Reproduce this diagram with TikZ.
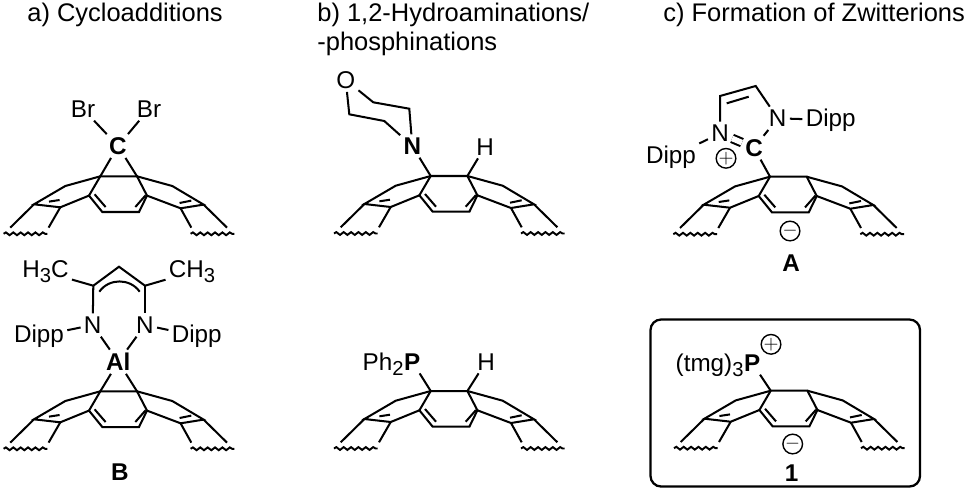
\documentclass[tikz,border=0pt]{standalone}
\usepackage{fontspec}
\setmainfont{Liberation Sans}
\usetikzlibrary{decorations.pathmorphing}
\newcommand{\lowered}[1]{\raisebox{-0.4ex}{\fontsize{11.5}{12}\selectfont #1}}
\tikzset{
  bond/.style={line width=1.15pt},
  atom/.style={inner sep=1.7pt,font=\fontsize{13.8}{16}\selectfont},
  heading/.style={inner sep=0pt,anchor=base west,font=\fontsize{14.5}{16}\selectfont},
  wavy/.style={line width=1.1pt,decorate,decoration={snake,amplitude=0.8pt,segment length=4.2pt}},
  charge/.style={circle,draw,line width=0.8pt,inner sep=0pt,minimum size=11pt,font=\fontsize{11}{11}\selectfont},
  scaffold/.pic={
    \coordinate (-tl) at (0,0);
    \coordinate (-tr) at (36.7,0);
    % central ring
    \draw[bond] (0,0) -- (36.7,0) -- (46.7,19.3) -- (38.7,35.7) -- (2,35.7) -- (-11.3,19.3) -- cycle;
    \draw[bond] (-5.7,18) -- (5.3,30.7);
    \draw[bond] (45.3,19) -- (35,30.7);
    % left wing
    \draw[bond] (0,0) -- (-35,9.7) -- (-66.3,28) -- (-40,31) -- (-11.3,19.3);
    \draw[bond] (-51.3,25.3) -- (-40.7,23.7);
    \draw[bond] (-66.3,28) -- (-90,51.3);
    \draw[bond] (-40,31) -- (-51.7,51.3);
    \draw[wavy] (-96.7,57.5) -- (-53,57.5);
    % right wing
    \draw[bond] (36.7,0) -- (72,9.7) -- (103.3,28.3) -- (80.3,32) -- (46.7,19.3);
    \draw[bond] (79.3,26.7) -- (91,24.3);
    \draw[bond] (80.3,32) -- (91,51.3);
    \draw[bond] (103.3,28.3) -- (126.7,51.3);
    \draw[wavy] (90.3,57.5) -- (134,57.5);
  }
}

\begin{document}
\begin{tikzpicture}[x=0.02cm,y=-0.02cm]
\useasboundingbox (0,0) rectangle (969,491);

% Headings
\node[heading] (heada) at (27,21) {a) Cycloadditions};
\node[heading] (headb) at (317,21) {b) 1,2-Hydroaminations/};
\node[heading] (headbb) at (317,50) {-phosphinations};
\node[heading] (headc) at (663,21) {c) Formation of Zwitterions};

% Dibromocarbene adduct
\pic (sa) at (100.3,176.3) {scaffold};
\node[atom] (bra) at (83,109) {Br};
\node[atom] (brb) at (149,109) {Br};
\node[atom] (ca) at (118,146) {\textbf{C}};
\draw[bond] (bra) -- (ca);
\draw[bond] (brb) -- (ca);
\draw[bond] (ca) -- (sa-tl);
\draw[bond] (ca) -- (sa-tr);

% Aluminium adduct
\pic (sb) at (100.3,391.3) {scaffold};
\node[atom] (hc) at (45.5,272) {H\lowered{3}C};
\node[atom] (ch) at (192,272) {CH\lowered{3}};
\coordinate (apex) at (119,266.7);
\coordinate (cl) at (93.3,285.7);
\coordinate (cr) at (145,285.7);
\node[atom] (nl) at (92.7,325) {N};
\node[atom] (nr) at (145,325) {N};
\node[atom] (dippa) at (39,336) {Dipp};
\node[atom] (dippb) at (196.7,336) {Dipp};
\node[atom] (al) at (118.3,361.7) {\textbf{Al}};
\node[atom] (lb) at (120,471.7) {\textbf{B}};
\draw[bond] (hc) -- (cl);
\draw[bond] (ch) -- (cr);
\draw[bond] (cl) -- (apex) -- (cr);
\draw[bond] (cl) -- (nl);
\draw[bond] (cr) -- (nr);
\draw[bond] (99.3,291.7) .. controls (109,278) and (130,278) .. (139.7,291.7);
\draw[bond] (dippa) -- (nl);
\draw[bond] (dippb) -- (nr);
\draw[bond] (nl) -- (al);
\draw[bond] (nr) -- (al);
\draw[bond] (al) -- (sb-tl);
\draw[bond] (al) -- (sb-tr);

% Morpholine adduct
\pic (sc) at (430.7,176) {scaffold};
\node[atom] (ox) at (345.7,80) {O};
\node[atom] (na) at (412.3,146) {\textbf{N}};
\node[atom] (ha) at (485,146.7) {H};
\coordinate (mc) at (373.3,102.3);
\coordinate (md) at (409.3,108.7);
\coordinate (me) at (349.3,114.3);
\coordinate (mf) at (384.3,121);
\draw[bond] (ox) -- (mc) -- (md) -- (na);
\draw[bond] (ox) -- (me) -- (mf) -- (na);
\draw[bond] (na) -- (sc-tl);
\draw[bond] (ha) -- (sc-tr);

% Phosphine adduct
\pic (sd) at (430.7,391) {scaffold};
\node[atom] (pa) at (412.3,361.7) {\textbf{P}};
\node[atom,anchor=base east,inner sep=0pt] (pha) at ([xshift=1.7pt]pa.base west) {Ph\lowered{2}};
\node[atom] (hb) at (486,361.7) {H};
\draw[bond] (pa) -- (sd-tl);
\draw[bond] (hb) -- (sd-tr);

% Carbene zwitterion
\pic (se) at (770,176.7) {scaffold};
\node[atom] (nc) at (720,133.3) {N};
\node[atom] (nd) at (777.7,118.3) {N};
\node[atom] (cc) at (754,147.7) {\textbf{C}};
\node[atom] (dippc) at (671,157.3) {Dipp};
\node[atom] (dippd) at (830.7,120) {Dipp};
\node[charge] (pe) at (726,158.3) {$+$};
\node[charge] (mi) at (790,231) {$-$};
\node[atom] (lc) at (791,262.7) {\textbf{A}};
\coordinate (ra) at (720,96);
\coordinate (rb) at (755.7,86);
\draw[bond] (nc) -- (ra) -- (rb) -- (nd);
\draw[bond] (726.7,103.3) -- (748.7,96.7);
\draw[bond] (nd) -- (cc);
\draw[bond,double,double distance=3.2pt] (nc) -- (cc);
\draw[bond] (dippc) -- (nc);
\draw[bond] (nd) -- (dippd);
\draw[bond] (cc) -- (se-tl);

% Phosphonium zwitterion
\draw[line width=1.3pt,rounded corners=6pt] (650.5,319.5) rectangle (920,486.5);
\pic (sf) at (770.7,390.7) {scaffold};
\node[atom] (pb) at (752.3,363) {\textbf{P}};
\node[atom,anchor=base east,inner sep=0pt] (tmg) at ([xshift=1.7pt]pb.base west) {(tmg)\lowered{3}};
\node[charge] (pf) at (771,344.3) {$+$};
\node[charge] (mj) at (792.7,444) {$-$};
\node[atom] (ld) at (791.7,473) {\textbf{1}};
\draw[bond] (pb) -- (sf-tl);
\end{tikzpicture}
\end{document}
